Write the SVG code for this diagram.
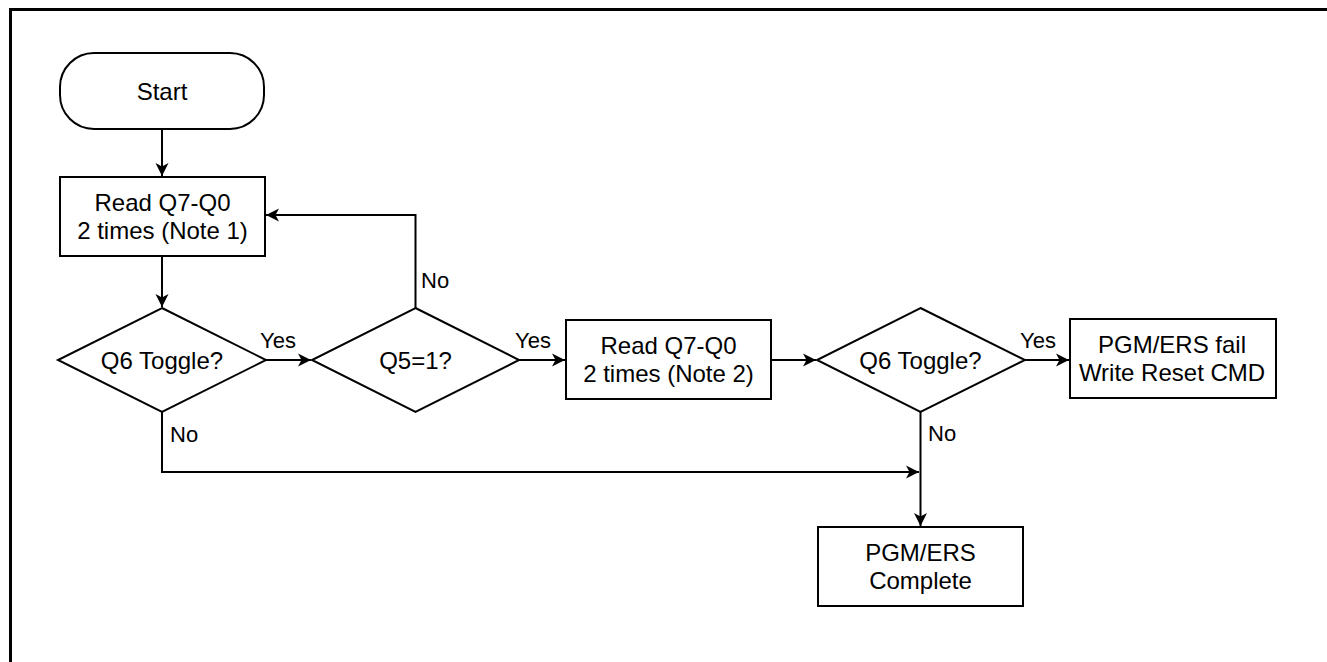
<svg xmlns="http://www.w3.org/2000/svg" width="1327" height="662" viewBox="0 0 1327 662">
<defs>
<style>
.n{fill:#fff;stroke:#000;stroke-width:2}
.t{font-family:"Liberation Sans",Arial,sans-serif;font-size:24px;fill:#000;text-anchor:middle}
.l{font-family:"Liberation Sans",Arial,sans-serif;font-size:22px;fill:#000}
.c{fill:none;stroke:#000;stroke-width:2}
</style>
<marker id="ah" markerUnits="userSpaceOnUse" markerWidth="16" markerHeight="16" viewBox="-14 -8 16 16" refX="0" refY="0" orient="auto">
<path d="M0,0 L-13,-6.5 L-9.5,0 L-13,6.5 Z" fill="#000"/>
</marker>
</defs>
<rect width="1327" height="662" fill="#fff"/>
<path d="M10.5,662 V9.5 H1327" fill="none" stroke="#000" stroke-width="3"/>
<g id="connectors">
<path class="c" d="M162,129 V176" marker-end="url(#ah)"/>
<path class="c" d="M162,256 V307" marker-end="url(#ah)"/>
<path class="c" d="M266,360 H311" marker-end="url(#ah)"/>
<path class="c" d="M519,360 H565" marker-end="url(#ah)"/>
<path class="c" d="M771,360 H816" marker-end="url(#ah)"/>
<path class="c" d="M1025,360 H1069" marker-end="url(#ah)"/>
<path class="c" d="M920.5,412 V526" marker-end="url(#ah)"/>
<path class="c" d="M162,412 V472 H919" marker-end="url(#ah)"/>
<path class="c" d="M415.5,308 V215 H266" marker-end="url(#ah)"/>
<text class="l" x="260" y="348">Yes</text>
<text class="l" x="515" y="348">Yes</text>
<text class="l" x="1020" y="348">Yes</text>
<text class="l" x="421" y="288">No</text>
<text class="l" x="170" y="442">No</text>
<text class="l" x="928" y="441">No</text>
</g>
<g id="start">
<rect class="n" x="60" y="53" width="204" height="76" rx="34"/>
<text class="t" x="162" y="100">Start</text>
</g>
<g id="read1">
<rect class="n" x="60" y="177" width="205" height="79"/>
<text class="t" x="162.5" y="211">Read Q7-Q0</text>
<text class="t" x="162.5" y="239">2 times (Note 1)</text>
</g>
<g id="q6a">
<polygon class="n" points="162,308 266,360 162,412 58,360"/>
<text class="t" x="162" y="368.5">Q6 Toggle?</text>
</g>
<g id="q5">
<polygon class="n" points="415.5,308 519,360 415.5,412 312,360"/>
<text class="t" x="415.5" y="368.5">Q5=1?</text>
</g>
<g id="read2">
<rect class="n" x="566" y="320" width="205" height="79"/>
<text class="t" x="668.5" y="354">Read Q7-Q0</text>
<text class="t" x="668.5" y="382">2 times (Note 2)</text>
</g>
<g id="q6b">
<polygon class="n" points="920.5,308 1025,360 920.5,412 817,360"/>
<text class="t" x="920.5" y="368.5">Q6 Toggle?</text>
</g>
<g id="fail">
<rect class="n" x="1070" y="319" width="206" height="79"/>
<text class="t" x="1172" y="353">PGM/ERS fail</text>
<text class="t" x="1172" y="381">Write Reset CMD</text>
</g>
<g id="complete">
<rect class="n" x="818" y="527" width="205" height="79"/>
<text class="t" x="920.5" y="561">PGM/ERS</text>
<text class="t" x="920.5" y="589">Complete</text>
</g>
</svg>
